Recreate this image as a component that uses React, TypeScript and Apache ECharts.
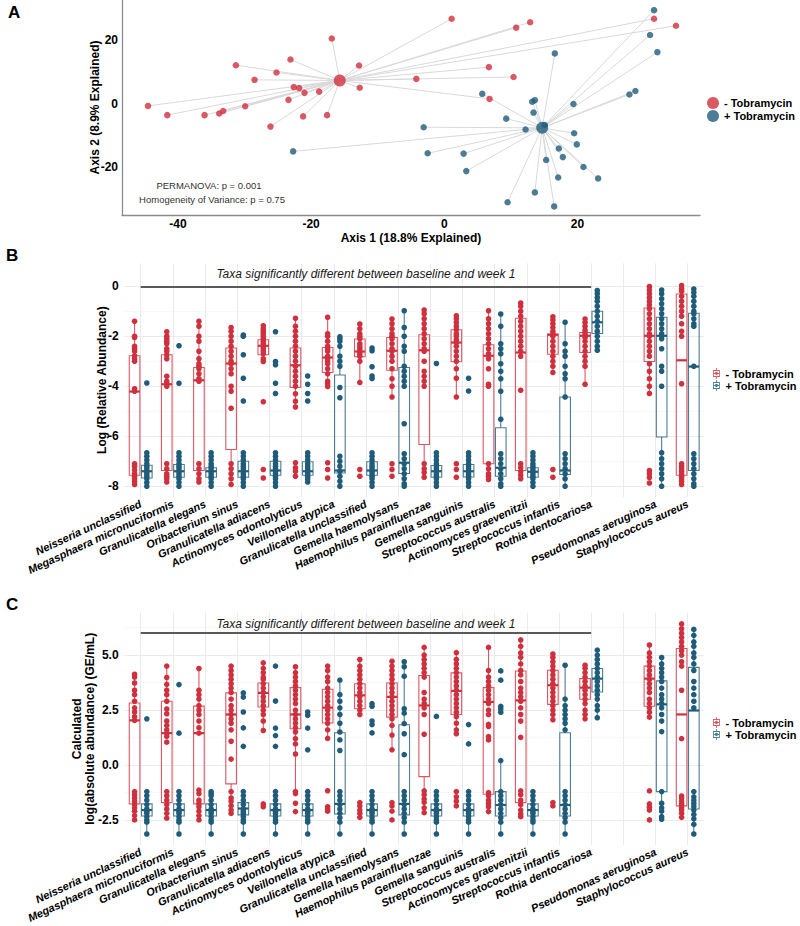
import React, { useEffect, useRef } from "react";
import * as echarts from "echarts";

const RED = "#CF303E";
const BLUE = "#1F5C79";
const FONT = "'Liberation Sans', Arial, Helvetica, sans-serif";
const GROUPS = ["- Tobramycin", "+ Tobramycin"];

// ---------- Panel A (PCoA) ----------
const redX = [-16.9, -23.1, -12.8, -31.3, -25.2, -28.5, -22.6, -21.8, -21.0, -18.8, -12.7, -23.4, -44.5, -41.6, -36.0, -33.8, -33.2, -29.9, -21.2, -17.6, -26.1, 1.1, 10.8, 12.9, 31.5, 34.8, 6.7, -4.2, 10.4, 6.8];
const redY = [20.5, 13.9, 12.0, 12.1, 9.8, 7.5, 5.2, 4.9, 3.4, 3.8, 5.0, 1.2, -0.7, -3.6, -3.6, -3.1, -2.3, -0.8, -4.0, -3.6, -7.2, 26.7, 23.9, 25.6, 26.7, 24.5, 11.5, 7.8, 8.4, 1.5];
const blueX = [-22.7, 31.5, 30.9, 32.0, 16.6, 28.7, 27.8, 5.7, 19.4, 13.2, 13.6, 13.4, 9.3, -3.1, 12.2, 19.5, 19.9, 17.2, 17.8, -2.5, 2.9, 15.3, 20.9, 3.3, 23.1, 17.1, 13.6, 9.5, 16.5, 15.1];
const blueY = [-15.0, 29.4, 21.6, 16.2, 15.8, 4.0, 2.9, 3.1, -0.1, 0.6, 1.1, -2.8, -4.7, -7.4, -8.1, -9.3, -12.8, -14.1, -16.8, -15.6, -15.7, -17.7, -19.9, -21.2, -23.5, -23.2, -27.9, -31.0, -32.3, -6.7];
const redCentroid = [-15.7, 7.3];
const blueCentroid = [14.7, -7.6];
const axis1Ticks = [-40, -20, 0, 20];
const axis2Ticks = [-20, 0, 20];

// ---------- Panels B & C ----------
const taxa = [
  "Neisseria unclassified", "Megasphaera micronuciformis", "Granulicatella elegans", "Oribacterium sinus",
  "Granulicatella adiacens", "Actinomyces odontolyticus", "Veillonella atypica", "Granulicatella unclassified",
  "Gemella haemolysans", "Haemophilus parainfluenzae", "Gemella sanguinis", "Streptococcus australis",
  "Actinomyces graevenitzii", "Streptococcus infantis", "Rothia dentocariosa", "",
  "Pseudomonas aeruginosa", "Staphylococcus aureus",
];
const sigFrom = 0;
const sigTo = 14;
const relTicks = [-8, -6, -4, -2, 0];
const relMinor = [-7, -5, -3, -1];
const absTicks = [-2.5, 0, 2.5, 5];
const absMinor = [-1.25, 1.25, 3.75, 6.25];
const relSigY = 0;
const absSigY = 6.0;

// box stats: [lower whisker, Q1, median, Q3, upper whisker]
const relRedBox = [
  [-7.93, -7.56, -4.21, -2.78, -1.40], [-7.83, -7.37, -3.92, -2.74, -1.82], [-7.83, -7.37, -3.76, -3.25, -1.40],
  [-7.93, -6.53, -3.09, -2.47, -1.65], [-3.01, -2.74, -2.38, -2.14, -1.58], [-4.83, -4.05, -3.16, -2.47, -1.28],
  [-4.01, -3.45, -2.85, -2.45, -1.24], [-3.85, -2.82, -2.61, -2.11, -1.51], [-4.43, -3.36, -2.58, -2.05, -1.31],
  [-7.67, -6.33, -2.56, -1.94, -0.95], [-4.43, -3.02, -2.25, -1.74, -1.18], [-7.73, -7.10, -2.78, -2.34, -0.98],
  [-7.73, -7.37, -2.65, -1.28, -0.67], [-3.45, -2.72, -1.94, -1.91, -1.22], [-3.92, -2.65, -1.98, -1.85, -1.31],
  null, [-4.29, -3.01, -1.98, -0.87, -0.01], [-7.93, -7.56, -2.96, -0.31, 0.03],
];
const relBlueBox = [
  [-8.0, -7.67, -7.40, -7.16, -6.66], [-8.0, -7.64, -7.40, -7.13, -6.66], [-8.0, -7.64, -7.40, -7.26, -6.66],
  [-8.0, -7.64, -7.40, -7.00, -6.66], [-8.0, -7.56, -7.37, -7.00, -6.66], [-7.83, -7.56, -7.40, -7.02, -6.66],
  [-8.0, -7.47, -7.37, -3.55, -2.02], [-8.0, -7.56, -7.37, -7.02, -6.66], [-8.0, -7.49, -7.06, -3.25, -0.98],
  [-8.0, -7.64, -7.40, -7.17, -6.66], [-8.0, -7.63, -7.40, -7.13, -6.66], [-8.0, -7.60, -7.26, -5.66, -1.11],
  [-8.0, -7.64, -7.42, -7.26, -6.66], [-8.0, -7.53, -7.37, -4.43, -1.44], [-2.56, -1.89, -1.44, -1.00, -0.17],
  null, [-8.0, -6.03, -1.98, -1.24, -0.15], [-8.0, -7.37, -3.21, -1.08, -0.11],
];
const relRedPts = [
  [-1.40, -2.0, -2.05, -2.4, -2.5, -2.6, -2.78, -2.9, -3.0, -4.1, -4.2, -7.1, -7.2, -7.35, -7.5, -7.6, -7.7, -7.8, -7.93],
  [-1.82, -2.0, -2.1, -2.2, -2.3, -2.5, -2.6, -2.75, -2.9, -3.6, -3.8, -3.9, -4.0, -7.1, -7.3, -7.5, -7.6, -7.7, -7.83],
  [-1.40, -1.6, -2.0, -2.2, -2.6, -2.9, -3.1, -3.2, -3.3, -3.5, -3.7, -3.8, -7.1, -7.3, -7.5, -7.7, -7.83],
  [-1.65, -1.8, -2.0, -2.2, -2.4, -2.6, -2.8, -3.0, -3.1, -3.3, -3.5, -4.0, -4.2, -4.88, -7.1, -7.3, -7.5, -7.7, -7.93],
  [-1.58, -1.7, -1.8, -1.9, -2.0, -2.1, -2.2, -2.3, -2.4, -2.5, -2.6, -2.7, -2.9, -3.01, -4.62, -7.33, -7.67],
  [-1.28, -1.6, -1.8, -2.0, -2.2, -2.4, -2.6, -2.8, -3.0, -3.2, -3.4, -3.6, -3.8, -4.0, -4.3, -4.6, -4.83, -7.06, -7.26, -7.4, -7.6],
  [-1.24, -1.9, -2.0, -2.2, -2.4, -2.5, -2.6, -2.8, -2.9, -3.0, -3.1, -3.3, -3.5, -3.8, -3.9, -4.01, -7.06, -7.33, -7.67],
  [-1.51, -1.7, -1.9, -2.0, -2.1, -2.3, -2.4, -2.5, -2.6, -2.7, -2.8, -3.0, -3.85, -7.33, -7.6],
  [-1.31, -1.5, -1.7, -1.9, -2.0, -2.1, -2.3, -2.5, -2.6, -2.8, -3.0, -3.3, -3.7, -4.0, -4.43, -7.1, -7.33, -7.6],
  [-0.95, -1.1, -1.3, -1.5, -1.7, -1.9, -2.1, -2.3, -2.5, -2.6, -3.0, -3.4, -3.6, -3.8, -4.0, -7.1, -7.3, -7.45, -7.64],
  [-1.18, -1.3, -1.45, -1.6, -1.74, -1.9, -2.0, -2.15, -2.25, -2.4, -2.6, -2.8, -3.0, -3.3, -3.68, -4.43, -7.1, -7.33, -7.64],
  [-0.98, -1.3, -1.5, -1.7, -1.9, -2.1, -2.3, -2.5, -2.7, -2.9, -3.3, -3.92, -4.0, -7.1, -7.3, -7.5, -7.6, -7.73],
  [-0.67, -0.8, -1.0, -1.2, -1.4, -1.6, -1.8, -2.0, -2.2, -2.4, -2.6, -2.8, -4.16, -7.1, -7.25, -7.4, -7.55, -7.7],
  [-1.22, -1.35, -1.5, -1.65, -1.8, -1.91, -2.0, -2.2, -2.4, -2.6, -2.8, -3.0, -3.2, -3.45, -7.33, -7.64],
  [-1.31, -1.45, -1.6, -1.75, -1.85, -1.95, -2.05, -2.2, -2.4, -2.6, -2.8, -3.0, -3.2, -3.92],
  [],
  [-0.01, -0.15, -0.3, -0.45, -0.6, -0.75, -0.9, -1.1, -1.3, -1.5, -1.7, -1.9, -2.0, -2.2, -2.4, -2.6, -2.8, -3.1, -3.4, -3.7, -4.0, -4.29, -7.37, -7.5, -7.65, -7.87],
  [0.03, -0.1, -0.2, -0.4, -0.6, -0.8, -1.0, -1.2, -1.5, -1.8, -2.0, -3.9, -7.1, -7.2, -7.3, -7.4, -7.5, -7.6, -7.7, -7.8, -7.93],
];
const relBluePts = [
  [-3.87, -6.66, -6.8, -6.95, -7.1, -7.2, -7.3, -7.4, -7.5, -7.6, -7.7, -7.85, -8.0],
  [-2.38, -3.88, -6.66, -6.8, -6.95, -7.1, -7.2, -7.3, -7.4, -7.5, -7.6, -7.7, -7.85, -8.0],
  [-6.66, -6.8, -6.95, -7.1, -7.2, -7.3, -7.4, -7.5, -7.6, -7.7, -7.85, -8.0],
  [-1.95, -2.0, -2.74, -3.68, -4.59, -6.66, -6.8, -6.95, -7.1, -7.2, -7.3, -7.4, -7.5, -7.6, -7.7, -7.85, -8.0],
  [-1.82, -3.01, -3.14, -3.88, -4.29, -6.66, -6.8, -6.95, -7.1, -7.2, -7.3, -7.4, -7.5, -7.6, -7.7, -7.85, -8.0],
  [-3.59, -3.92, -4.29, -4.59, -6.66, -6.8, -6.95, -7.1, -7.2, -7.3, -7.4, -7.5, -7.6, -7.7, -7.83],
  [-2.02, -2.1, -2.2, -2.4, -2.8, -3.0, -3.2, -4.05, -4.46, -6.8, -7.0, -7.2, -7.4, -7.6, -7.8, -8.0],
  [-2.47, -2.58, -3.22, -3.59, -3.69, -6.66, -6.8, -6.95, -7.1, -7.2, -7.3, -7.4, -7.5, -7.6, -7.7, -7.85, -8.0],
  [-0.98, -1.65, -2.0, -2.4, -2.6, -3.2, -3.4, -3.6, -3.8, -4.0, -5.5, -6.7, -6.9, -7.1, -7.3, -7.5, -7.7, -7.9, -8.0],
  [-3.09, -6.66, -6.8, -6.95, -7.1, -7.2, -7.3, -7.4, -7.5, -7.6, -7.7, -7.85, -8.0],
  [-3.68, -4.19, -6.66, -6.8, -6.95, -7.1, -7.2, -7.3, -7.4, -7.5, -7.6, -7.7, -7.85, -8.0],
  [-1.11, -1.6, -2.3, -2.5, -2.7, -3.1, -3.4, -3.7, -4.2, -5.32, -6.7, -6.9, -7.1, -7.3, -7.5, -7.7, -7.9, -8.0],
  [-6.66, -6.8, -6.95, -7.1, -7.2, -7.3, -7.4, -7.5, -7.6, -7.7, -7.85, -8.0],
  [-1.44, -2.3, -2.6, -2.8, -3.2, -3.5, -3.7, -4.43, -6.7, -6.9, -7.1, -7.3, -7.5, -7.7, -8.0],
  [-0.17, -0.3, -0.45, -0.6, -0.8, -1.0, -1.2, -1.4, -1.6, -1.8, -2.0, -2.2, -2.4, -2.56],
  [],
  [-0.15, -0.3, -0.5, -0.7, -0.9, -1.1, -1.3, -1.5, -1.7, -1.9, -2.0, -2.1, -2.5, -3.2, -3.4, -4.0, -6.66, -6.9, -7.1, -7.3, -7.5, -7.7, -8.0],
  [-0.11, -0.25, -0.4, -0.6, -0.8, -1.0, -1.1, -1.3, -1.5, -1.6, -3.2, -6.7, -6.9, -7.1, -7.3, -7.5, -7.7, -7.9, -8.0],
];

const absRedBox = [
  [-2.50, -1.77, 2.03, 2.82, 4.13], [-2.42, -1.71, 1.45, 2.90, 4.50], [-2.50, -1.77, 1.45, 2.68, 4.39],
  [-2.20, -0.86, 2.30, 3.28, 4.50], [1.57, 2.64, 3.28, 3.73, 4.65], [-1.21, 1.65, 2.30, 3.52, 4.47],
  [1.21, 1.91, 2.61, 3.45, 4.50], [2.26, 2.56, 3.17, 3.70, 4.80], [0.69, 2.18, 3.10, 3.73, 4.72],
  [-2.17, -0.53, 2.71, 4.07, 5.35], [1.42, 2.30, 3.37, 4.19, 5.11], [-2.12, -1.33, 2.87, 3.52, 5.35],
  [-2.23, -1.71, 2.94, 4.28, 5.69], [2.06, 2.76, 3.63, 4.31, 5.05], [2.10, 2.99, 3.52, 3.93, 4.54],
  null, [2.18, 2.67, 3.93, 4.50, 5.46], [-2.50, -1.86, 2.30, 5.30, 6.42],
];
const absBlueBox = [
  [-3.14, -2.32, -2.05, -1.77, -1.21], [-3.14, -2.32, -2.05, -1.77, -1.21], [-3.14, -2.32, -2.05, -1.77, -1.21],
  [-3.14, -2.27, -1.98, -1.71, -1.21], [-3.14, -2.32, -2.05, -1.77, -1.21], [-3.14, -2.32, -2.05, -1.77, -1.21],
  [-3.14, -2.23, -1.77, 1.47, 3.86], [-3.14, -2.32, -2.05, -1.77, -1.21], [-3.14, -2.27, -1.77, 1.83, 4.70],
  [-3.14, -2.32, -2.05, -1.77, -1.21], [-3.14, -2.32, -2.05, -1.77, -1.21], [-3.14, -2.32, -1.82, -1.21, 0.20],
  [-3.14, -2.32, -2.05, -1.77, -1.21], [-3.14, -2.32, -1.82, 1.47, 4.54], [2.15, 3.32, 3.93, 4.39, 5.23],
  null, [-2.47, -1.21, 2.76, 3.83, 4.89], [-3.14, -2.00, 2.48, 4.44, 6.17],
];
const absRedPts = [
  [4.13, 4.0, 3.73, 3.4, 3.2, 2.9, 2.6, 2.41, 2.2, 2.03, -1.21, -1.35, -1.5, -1.65, -1.8, -1.95, -2.1, -2.3, -2.5],
  [4.5, 3.98, 3.67, 3.4, 3.2, 2.9, 2.55, 2.33, 2.0, 1.8, 1.6, 1.45, 1.3, 1.04, -1.21, -1.4, -1.6, -1.8, -2.0, -2.2, -2.42],
  [4.39, 3.4, 3.2, 3.0, 2.7, 2.5, 2.3, 2.0, 1.7, 1.45, -1.14, -1.3, -1.6, -1.75, -1.9, -2.1, -2.3, -2.5],
  [4.5, 4.3, 4.1, 3.9, 3.7, 3.5, 3.3, 3.0, 2.7, 2.5, 2.3, 2.1, 1.9, 1.6, 1.08, 0.27, -1.21, -1.5, -1.65, -1.85, -2.05, -2.2],
  [4.65, 4.4, 4.2, 4.0, 3.9, 3.7, 3.5, 3.3, 3.1, 2.9, 2.7, 2.5, 2.3, 2.0, 1.57, -1.77, -1.9],
  [4.47, 4.2, 4.0, 3.8, 3.6, 3.4, 3.2, 3.0, 2.8, 2.5, 2.3, 2.1, 1.9, 1.7, 1.5, 1.2, 0.96, 0.5, -1.21, -1.3, -1.74, -2.12],
  [4.5, 4.3, 4.0, 3.8, 3.5, 3.3, 3.1, 2.9, 2.7, 2.5, 2.3, 2.1, 1.9, 1.6, 1.21, -1.17, -1.9, -2.0, -2.1],
  [4.8, 4.5, 4.3, 4.1, 3.9, 3.7, 3.5, 3.3, 3.1, 2.9, 2.7, 2.5, 2.3, -1.71, -1.86, -2.05, -2.2, -2.38],
  [4.72, 4.5, 4.3, 4.1, 3.9, 3.7, 3.5, 3.3, 3.1, 2.9, 2.7, 2.5, 2.3, 2.1, 1.8, 1.36, 0.69, -1.71, -1.86, -2.1, -2.5],
  [5.35, 5.0, 4.8, 4.6, 4.4, 4.2, 4.0, 3.3, 3.0, 2.8, 2.6, 2.3, 1.4, -1.18, -1.35, -1.55, -1.7, -1.95, -2.17],
  [5.11, 4.8, 4.6, 4.4, 4.2, 4.0, 3.8, 3.6, 3.4, 3.2, 3.0, 2.8, 2.6, 2.4, 2.2, 1.9, 1.6, 1.42, -1.21, -1.45, -1.65, -1.86],
  [5.35, 4.3, 4.0, 3.8, 3.6, 3.4, 3.2, 3.0, 2.8, 2.5, 2.3, 1.85, 1.75, 1.29, 1.14, -1.26, -1.4, -1.6, -1.75, -1.9, -2.12],
  [5.69, 5.4, 5.1, 4.9, 4.6, 4.3, 4.1, 3.8, 3.5, 3.3, 3.1, 2.9, 2.6, 2.3, 2.0, 1.26, -1.18, -1.35, -1.6, -1.8, -2.05, -2.23, -2.35],
  [5.05, 4.9, 4.7, 4.5, 4.3, 4.1, 3.9, 3.7, 3.5, 3.3, 3.1, 2.9, 2.7, 2.5, 2.3, 2.06, -1.71, -1.86],
  [4.54, 4.4, 4.2, 4.0, 3.8, 3.6, 3.4, 3.2, 3.0, 2.8, 2.5, 2.3, 2.1],
  [],
  [5.46, 5.1, 4.9, 4.7, 4.5, 4.3, 4.1, 3.9, 3.7, 3.5, 3.3, 3.0, 2.8, 2.6, 2.4, 2.18, -1.18, -1.77, -1.92, -2.05, -2.5],
  [6.42, 6.2, 6.0, 5.8, 5.6, 5.4, 5.2, 5.0, 4.7, 4.5, 3.4, 1.2, -1.41, -1.5, -1.65, -1.75, -1.85, -1.95, -2.05, -2.2, -2.38],
];
const absBluePts = [
  [2.10, -1.21, -1.4, -1.6, -1.8, -2.0, -2.1, -2.2, -2.35, -2.5, -2.6, -3.14],
  [3.66, 1.45, -1.21, -1.4, -1.6, -1.8, -2.0, -2.1, -2.2, -2.35, -2.5, -2.6, -3.14],
  [-1.3, -1.21, -1.4, -1.6, -1.8, -2.0, -2.1, -2.2, -2.35, -2.5, -2.6, -3.14],
  [3.28, 3.09, 2.41, 1.69, 0.85, -1.21, -1.4, -1.6, -1.8, -2.0, -2.1, -2.2, -2.35, -2.5, -2.6, -3.14],
  [4.5, 2.91, 1.68, 1.34, 0.85, -1.21, -1.4, -1.6, -1.8, -2.0, -2.1, -2.2, -2.35, -2.5, -2.6, -3.14],
  [2.41, 2.26, 1.68, 0.69, -1.21, -1.4, -1.6, -1.8, -2.0, -2.1, -2.2, -2.35, -2.5, -2.6, -3.14],
  [3.86, 3.2, 2.9, 2.6, 2.3, 1.9, 1.5, 1.14, 0.66, -1.21, -1.4, -1.6, -1.8, -2.0, -2.2, -2.4, -2.6, -3.14],
  [2.79, 2.67, 2.0, 1.84, 1.46, -1.21, -1.4, -1.6, -1.8, -2.0, -2.1, -2.2, -2.35, -2.5, -2.6, -3.14],
  [4.70, 4.47, 4.04, 2.56, 2.36, 1.88, 1.42, 0.47, -1.21, -1.4, -1.6, -1.8, -2.0, -2.2, -2.4, -2.6, -3.14],
  [2.21, -1.21, -1.4, -1.6, -1.8, -2.0, -2.1, -2.2, -2.35, -2.5, -2.6, -3.14],
  [1.84, 0.96, -1.21, -1.4, -1.6, -1.8, -2.0, -2.1, -2.2, -2.35, -2.5, -2.6, -3.14],
  [4.28, 3.86, 2.67, 2.55, 2.4, 0.2, -1.21, -1.4, -1.6, -1.8, -2.0, -2.2, -2.4, -2.6, -3.14],
  [-1.21, -1.4, -1.6, -1.8, -2.0, -2.1, -2.2, -2.35, -2.5, -2.6, -3.14],
  [4.54, 3.0, 2.7, 2.5, 2.3, 2.1, 1.9, 1.6, -1.21, -1.4, -1.6, -1.8, -2.0, -2.2, -2.4, -2.6, -3.14],
  [5.23, 5.0, 4.8, 4.6, 4.4, 4.2, 4.0, 3.8, 3.6, 3.4, 3.2, 3.0, 2.7, 2.5, 2.15],
  [],
  [4.89, 4.6, 4.4, 4.2, 4.0, 3.8, 3.5, 3.2, 3.0, 2.8, 2.6, 2.3, 2.0, 1.52, -1.21, -1.74, -1.95, -2.1, -2.35, -2.47],
  [6.17, 5.9, 5.6, 5.4, 5.1, 4.9, 4.6, 4.3, 3.8, 3.5, 3.2, 2.9, 2.6, -1.21, -1.45, -1.6, -1.75, -1.9, -2.05, -2.25, -2.45, -2.7, -3.14],
];

// ---------- helpers ----------
const DODGE = 0.19;
const BOXW = 0.33;
const LEGEND_BOX_ICON =
  "path://M4.4,0H5.6V3H4.4Z M0,3H10V13H0Z M1.2,4.2V11.8H8.8V4.2Z M4.4,13H5.6V16H4.4Z M0,7.4H10V8.6H0Z M5,5.6A2.4,2.4 0 1 1 4.99,5.6Z";

function boxData(stats: (number[] | null)[]) {
  const out: number[][] = [];
  stats.forEach((s, i) => {
    if (s) out.push([i, ...s]);
  });
  return out;
}
function pointData(pts: number[][]) {
  const out: number[][] = [];
  pts.forEach((arr, i) => arr.forEach((v) => out.push([i, v])));
  return out;
}
function renderBox(dir: number, color: string) {
  return (_params: any, api: any) => {
    const i = api.value(0);
    const band = api.size([1, 0])[0];
    const cx = api.coord([i, 0])[0] + dir * band * DODGE;
    const yy = (k: number) => api.coord([i, api.value(k)])[1];
    const yl = yy(1), yq1 = yy(2), ym = yy(3), yq3 = yy(4), yh = yy(5);
    const hw = (band * BOXW) / 2;
    const st = { stroke: color, lineWidth: 1.1, opacity: 0.8 };
    return {
      type: "group",
      children: [
        { type: "line", shape: { x1: cx, y1: yh, x2: cx, y2: yq3 }, style: st },
        { type: "line", shape: { x1: cx, y1: yq1, x2: cx, y2: yl }, style: st },
        { type: "rect", shape: { x: cx - hw, y: yq3, width: 2 * hw, height: yq1 - yq3 }, style: { ...st, fill: "none" } },
        { type: "line", shape: { x1: cx - hw, y1: ym, x2: cx + hw, y2: ym }, style: { stroke: color, lineWidth: 2.2 } },
      ],
    };
  };
}
function renderPoint(dir: number, color: string) {
  return (_params: any, api: any) => {
    const i = api.value(0);
    const band = api.size([1, 0])[0];
    const p = api.coord([i, api.value(1)]);
    return { type: "circle", shape: { cx: p[0] + dir * band * DODGE, cy: p[1], r: 2.8 }, style: { fill: color } };
  };
}

const boldText = { fontFamily: FONT, fontWeight: "bold" as const, color: "#000" };

function gridLines(major: number[], minor: number[], sigY: number, sigDist: number) {
  const data: any[] = [];
  minor.forEach((v) => data.push({ yAxis: v, lineStyle: { color: "#F4F4F4", width: 0.6, type: "solid" } }));
  major.forEach((v) => data.push({ yAxis: v, lineStyle: { color: "#EBEBEB", width: 1, type: "solid" } }));
  taxa.forEach((_t, i) => data.push({ xAxis: i, lineStyle: { color: "#EBEBEB", width: 1, type: "solid" } }));
  data.push([
    {
      coord: [sigFrom, sigY],
      lineStyle: { color: "#5A5A5A", width: 2, type: "solid" },
      label: {
        show: true,
        position: "insideMiddleTop",
        distance: sigDist,
        formatter: "Taxa significantly different between baseline and week 1",
        fontFamily: FONT,
        fontStyle: "italic",
        fontSize: 12,
        color: "#1a1a1a",
      },
    },
    { coord: [sigTo, sigY] },
  ]);
  return {
    silent: true,
    symbol: ["none", "none"],
    z: 1,
    animation: false,
    label: { show: false },
    lineStyle: { type: "solid" },
    data,
  };
}

function boxPanelSeries(gi: number, redBox: any, blueBox: any, redPts: number[][], bluePts: number[][], major: number[], minor: number[], sigY: number, sigDist: number) {
  return [
    {
      type: "line",
      xAxisIndex: gi,
      yAxisIndex: gi,
      data: [],
      silent: true,
      markLine: gridLines(major, minor, sigY, sigDist),
    },
    { type: "custom", name: GROUPS[0], xAxisIndex: gi, yAxisIndex: gi, data: boxData(redBox), renderItem: renderBox(-1, RED), itemStyle: { color: RED }, z: 3, silent: true },
    { type: "custom", name: GROUPS[1], xAxisIndex: gi, yAxisIndex: gi, data: boxData(blueBox), renderItem: renderBox(1, BLUE), itemStyle: { color: BLUE }, z: 3, silent: true },
    { type: "custom", name: GROUPS[0], xAxisIndex: gi, yAxisIndex: gi, data: pointData(redPts), renderItem: renderPoint(-1, RED), itemStyle: { color: RED }, z: 4, silent: true },
    { type: "custom", name: GROUPS[1], xAxisIndex: gi, yAxisIndex: gi, data: pointData(bluePts), renderItem: renderPoint(1, BLUE), itemStyle: { color: BLUE }, z: 4, silent: true },
  ];
}

function catAxis(gi: number) {
  return {
    type: "category",
    gridIndex: gi,
    data: taxa,
    boundaryGap: true,
    axisLine: { show: false },
    axisTick: { show: false },
    splitLine: { show: false },
    axisLabel: { ...boldText, interval: 0, rotate: 25, fontSize: 11, fontStyle: "italic", margin: 6 },
  };
}

function legendFor(top: number, left: number, w: number, h: number, icon: string) {
  return {
    orient: "vertical",
    left,
    top,
    itemWidth: w,
    itemHeight: h,
    itemGap: 1,
    selectedMode: false,
    textStyle: { ...boldText, fontSize: 11 },
    data: GROUPS.map((g) => ({ name: g, icon })),
  };
}

function buildOption() {
  const spider: any[] = [];
  redX.forEach((x, i) => spider.push({ coords: [[x, redY[i]], redCentroid] }));
  blueX.forEach((x, i) => spider.push({ coords: [[x, blueY[i]], blueCentroid] }));

  return {
    animation: false,
    backgroundColor: "#fff",
    textStyle: { fontFamily: FONT },
    grid: [
      { left: 122, top: 0, width: 578, height: 215 },
      { left: 124.6, top: 263.3, width: 579.2, height: 233.7 },
      { left: 124.6, top: 612.7, width: 579.2, height: 232.3 },
    ],
    xAxis: [
      {
        type: "value",
        gridIndex: 0,
        min: -48.4,
        max: 38.4,
        axisLine: { show: true, onZero: false, lineStyle: { color: "#8C8C8C", width: 1.3 } },
        axisTick: { show: false },
        splitLine: { show: false },
        axisLabel: { ...boldText, fontSize: 12, margin: 3, lineHeight: 12, customValues: axis1Ticks },
        name: "Axis 1 (18.8% Explained)",
        nameLocation: "middle",
        nameGap: 17,
        nameMoveOverlap: false,
        nameTextStyle: { ...boldText, fontSize: 12, lineHeight: 12, verticalAlign: "top" },
      },
      catAxis(1),
      catAxis(2),
    ],
    yAxis: [
      {
        type: "value",
        gridIndex: 0,
        min: -35,
        max: 32.6,
        axisLine: { show: true, onZero: false, lineStyle: { color: "#8C8C8C", width: 1.3 } },
        axisTick: { show: false },
        splitLine: { show: false },
        axisLabel: { ...boldText, fontSize: 12, margin: 4, customValues: axis2Ticks },
        name: "Axis 2 (8.9% Explained)",
        nameLocation: "middle",
        nameGap: 21,
        nameMoveOverlap: false,
        nameTextStyle: { ...boldText, fontSize: 12 },
      },
      {
        type: "value",
        gridIndex: 1,
        min: -8.43,
        max: 0.92,
        axisLine: { show: false },
        axisTick: { show: false },
        splitLine: { show: false },
        axisLabel: { ...boldText, fontSize: 12, margin: 6, customValues: relTicks },
        name: "Log (Relative Abundance)",
        nameLocation: "middle",
        nameGap: 17,
        nameMoveOverlap: false,
        nameTextStyle: { ...boldText, fontSize: 12 },
      },
      {
        type: "value",
        gridIndex: 2,
        min: -3.64,
        max: 6.93,
        axisLine: { show: false },
        axisTick: { show: false },
        splitLine: { show: false },
        axisLabel: { ...boldText, fontSize: 12, margin: 6, customValues: absTicks, formatter: (v: number) => v.toFixed(1) },
        name: "Calculated\nlog(absolute abundance) (GE/mL)",
        nameLocation: "middle",
        nameGap: 28,
        nameMoveOverlap: false,
        nameTextStyle: { ...boldText, fontSize: 12, lineHeight: 13, align: "center" },
      },
    ],
    legend: [
      legendFor(92, 702, 12, 12, "circle"),
      legendFor(363, 708, 8, 11, LEGEND_BOX_ICON),
      legendFor(712, 708, 8, 11, LEGEND_BOX_ICON),
    ],
    graphic: [
      { type: "text", left: 8, top: 4, style: { text: "A", font: `bold 17px ${FONT}`, fill: "#000" } },
      { type: "text", left: 6, top: 247, style: { text: "B", font: `bold 17px ${FONT}`, fill: "#000" } },
      { type: "text", left: 6, top: 596, style: { text: "C", font: `bold 17px ${FONT}`, fill: "#000" } },
      { type: "text", x: 209, y: 185, style: { text: "PERMANOVA: p = 0.001", font: `9.5px ${FONT}`, fill: "#333", align: "center", verticalAlign: "middle" } },
      { type: "text", x: 212, y: 199, style: { text: "Homogeneity of Variance: p = 0.75", font: `9.5px ${FONT}`, fill: "#333", align: "center", verticalAlign: "middle" } },
    ],
    series: [
      {
        type: "lines",
        coordinateSystem: "cartesian2d",
        xAxisIndex: 0,
        yAxisIndex: 0,
        data: spider,
        silent: true,
        lineStyle: { color: "#D9D9D9", width: 1, opacity: 1 },
        z: 1,
      },
      { type: "scatter", name: GROUPS[0], xAxisIndex: 0, yAxisIndex: 0, data: redX.map((x, i) => [x, redY[i]]), symbolSize: 6.5, itemStyle: { color: RED }, z: 3, silent: true },
      { type: "scatter", name: GROUPS[1], xAxisIndex: 0, yAxisIndex: 0, data: blueX.map((x, i) => [x, blueY[i]]), symbolSize: 6.5, itemStyle: { color: BLUE }, z: 3, silent: true },
      { type: "scatter", name: GROUPS[0], xAxisIndex: 0, yAxisIndex: 0, data: [redCentroid], symbolSize: 12, itemStyle: { color: RED }, z: 4, silent: true },
      { type: "scatter", name: GROUPS[1], xAxisIndex: 0, yAxisIndex: 0, data: [blueCentroid], symbolSize: 12, itemStyle: { color: BLUE }, z: 4, silent: true },
      ...boxPanelSeries(1, relRedBox, relBlueBox, relRedPts, relBluePts, relTicks, relMinor, relSigY, 6),
      ...boxPanelSeries(2, absRedBox, absBlueBox, absRedPts, absBluePts, absTicks, absMinor, absSigY, 3),
    ],
  };
}

export default function App() {
  const ref = useRef<HTMLDivElement>(null);
  useEffect(() => {
    const chart = echarts.init(ref.current!, null, { renderer: "svg" });
    chart.setOption(buildOption() as any);
    return () => chart.dispose();
  }, []);
  return <div ref={ref} style={{ position: "absolute", left: 0, top: 0, width: 800, height: 926 }} />;
}
